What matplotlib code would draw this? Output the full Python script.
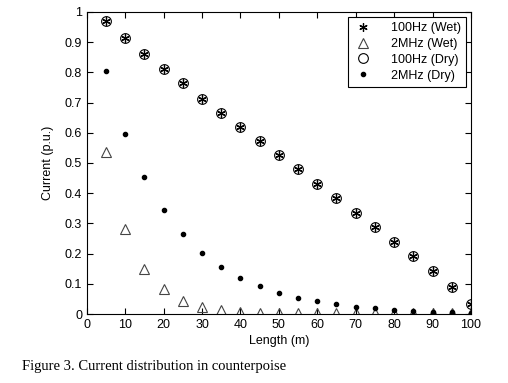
import numpy as np
import matplotlib.pyplot as plt

plt.rcParams['font.family'] = ['Liberation Sans', 'DejaVu Sans']

length = [5, 10, 15, 20, 25, 30, 35, 40, 45, 50, 55, 60, 65, 70, 75, 80, 85, 90, 95, 100]
hz100_wet = [0.971, 0.913, 0.862, 0.810, 0.763, 0.713, 0.666, 0.620, 0.572, 0.526,
             0.479, 0.429, 0.383, 0.336, 0.289, 0.240, 0.192, 0.141, 0.090, 0.032]
mhz2_wet = [0.537, 0.283, 0.149, 0.082, 0.044, 0.024, 0.013, 0.008, 0.005, 0.004,
            0.003, 0.003, 0.003, 0.003, 0.003, 0.003, 0.003, 0.003, 0.003, 0.003]
hz100_dry = [0.971, 0.913, 0.862, 0.810, 0.763, 0.713, 0.666, 0.620, 0.572, 0.526,
             0.479, 0.429, 0.383, 0.336, 0.289, 0.240, 0.192, 0.141, 0.090, 0.032]
mhz2_dry = [0.804, 0.595, 0.452, 0.346, 0.265, 0.203, 0.157, 0.120, 0.092, 0.071,
            0.054, 0.042, 0.033, 0.024, 0.019, 0.013, 0.010, 0.008, 0.006, 0.004]

fig = plt.figure(figsize=(5.08, 3.83), dpi=100)
ax = fig.add_axes([0.171, 0.180, 0.756, 0.789])

ax.plot(length, hz100_wet, linestyle='none', marker=(6, 2, 0), color='k',
        markersize=6, markeredgewidth=0.9, label='100Hz (Wet)')
ax.plot(length, mhz2_wet, linestyle='none', marker='^', markerfacecolor='none',
        markeredgecolor='#444444', markersize=7.5, markeredgewidth=0.8, label='2MHz (Wet)')
ax.plot(length, hz100_dry, linestyle='none', marker='o', markerfacecolor='none',
        markeredgecolor='k', markersize=7, markeredgewidth=0.8, label='100Hz (Dry)')
ax.plot(length, mhz2_dry, linestyle='none', marker='o', color='k',
        markersize=3, label='2MHz (Dry)')

ax.set_xlim(0, 100)
ax.set_ylim(0, 1)
ax.set_xticks(np.arange(0, 101, 10))
ax.set_yticks(np.arange(0, 1.01, 0.1))
ax.set_yticklabels(['0', '0.1', '0.2', '0.3', '0.4', '0.5', '0.6', '0.7', '0.8', '0.9', '1'])
ax.tick_params(direction='in', top=True, right=True, labelsize=9, length=4, width=0.8)
for s in ax.spines.values():
    s.set_linewidth(0.8)

ax.set_xlabel('Length (m)', fontsize=9, labelpad=3)
ax.set_ylabel('Current (p.u.)', fontsize=9, labelpad=8)

leg = ax.legend(loc='upper right', fontsize=9, fancybox=False, edgecolor='k',
                framealpha=1, borderpad=0.4, labelspacing=0.3, handletextpad=1.4,
                handlelength=1.6, borderaxespad=0, bbox_to_anchor=(0.987, 0.982))
leg.get_frame().set_linewidth(0.8)

fig.text(0.043, 0.035, 'Figure 3. Current distribution in counterpoise',
         family=['Liberation Serif', 'DejaVu Serif'], fontsize=10.5)

fig.savefig('out.png', dpi=100)
